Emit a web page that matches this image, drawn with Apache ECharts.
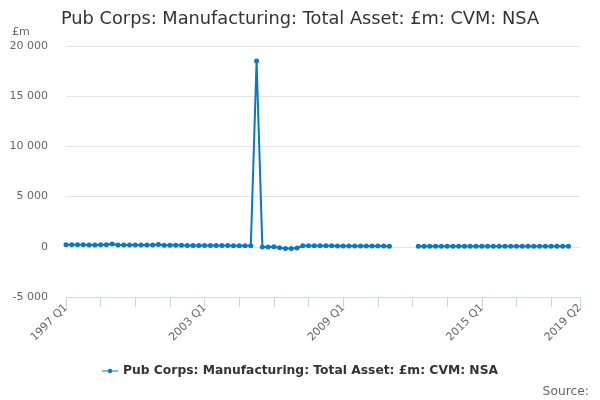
<!DOCTYPE html>
<html>
<head>
<meta charset="utf-8">
<script src="https://cdn.jsdelivr.net/npm/echarts@6/dist/echarts.min.js"></script>
<style>html,body{margin:0;padding:0;background:#fff}#c{width:600px;height:400px}</style>
</head>
<body>
<div id="c"></div>
<script>
const titleText = 'Pub Corps: Manufacturing: Total Asset: £m: CVM: NSA';
const seriesName = 'Pub Corps: Manufacturing: Total Asset: £m: CVM: NSA';
const unitLabel = '£m';
const sourceText = 'Source:';

// Quarters 1997 Q1 .. 2019 Q2
const quarters = [];
for (let y = 1997; y <= 2019; y++) {
  for (let q = 1; q <= 4; q++) {
    if (y === 2019 && q > 2) break;
    quarters.push(y + ' Q' + q);
  }
}

// Values (£m); null = no data
const values1997_2004 = [200, 200, 200, 200, 190, 190, 200, 210, 280, 180, 180, 180, 180, 180, 180, 180,
                         230, 160, 150, 150, 150, 140, 140, 140, 130, 130, 120, 120, 120, 110, 110, 100];
const values2005_2011 = [100, 18500, -20, -10, 0, -100, -180, -180, -120, 100, 100, 110, 100, 100, 100, 90,
                         90, 80, 80, 80, 70, 70, 70, 70, 60];
const valuesGap = [null, null, null, null];
const values2012_2019 = [50, 50, 50, 50, 50, 50, 50, 50, 50, 50, 50, 50, 50, 50, 50, 50, 50, 50, 50, 50,
                         50, 50, 50, 50, 50, 50, 50, null, null];
const values = values1997_2004.concat(values2005_2011, valuesGap, values2012_2019);

const yTicks = { min: -5000, max: 20000, interval: 5000 };

function fmt(v) {
  const s = String(Math.abs(v)).replace(/\B(?=(\d{3})+(?!\d))/g, ' ');
  return (v < 0 ? '-' : '') + s;
}

const FONT = 'DejaVu Sans';
const lastIdx = quarters.length - 1;
const chart = echarts.init(document.getElementById('c'), null, { renderer: 'canvas' });
chart.setOption({
  animation: false,
  textStyle: { fontFamily: FONT },
  title: [{
    text: titleText, left: 'center', top: 5,
    textStyle: { fontFamily: FONT, fontSize: 17.8, fontWeight: 'normal', color: '#333' }
  }, {
    text: unitLabel, left: 7, top: 22,
    textStyle: { fontFamily: FONT, fontSize: 11, fontWeight: 'normal', color: '#666' }
  }, {
    text: sourceText, right: 6, top: 381,
    textStyle: { fontFamily: FONT, fontSize: 12.3, fontWeight: 'normal', color: '#666' }
  }],
  legend: {
    bottom: 18, left: 'center',
    itemWidth: 16, itemHeight: 8, itemGap: 4,
    textStyle: { fontFamily: FONT, fontSize: 12.3, fontWeight: 'bold', color: '#333' },
    data: [{ name: seriesName, icon: 'path://M0,3.4 L16,3.4 L16,4.6 L0,4.6 Z M8,1.8 A2.2,2.2 0 1 1 8,6.2 A2.2,2.2 0 1 1 8,1.8 Z' }]
  },
  grid: { left: 66, right: 20, top: 46, bottom: 103 },
  xAxis: {
    type: 'category', data: quarters, boundaryGap: false,
    axisLine: { onZero: false, lineStyle: { color: '#ccd6eb' } },
    axisTick: { length: 10, lineStyle: { color: '#ccd6eb' },
      interval: (i) => i % 6 === 0 || i === lastIdx },
    axisLabel: {
      rotate: 45, fontFamily: FONT, fontSize: 11, color: '#666', margin: 9,
      interval: (i) => i % 24 === 0 || i === lastIdx
    },
    splitLine: { show: false }
  },
  yAxis: {
    type: 'value', min: yTicks.min, max: yTicks.max, interval: yTicks.interval,
    axisLine: { show: false }, axisTick: { show: false },
    axisLabel: { fontFamily: FONT, fontSize: 11, color: '#666', margin: 18, formatter: fmt },
    splitLine: { lineStyle: { color: '#e6e6e6' } }
  },
  series: [{
    name: seriesName, type: 'line', data: values,
    connectNulls: false,
    symbol: 'circle', symbolSize: 5, showAllSymbol: true,
    lineStyle: { color: '#0b78c2', width: 2 },
    itemStyle: { color: '#0b78c2' }
  }]
});
</script>
</body>
</html>
